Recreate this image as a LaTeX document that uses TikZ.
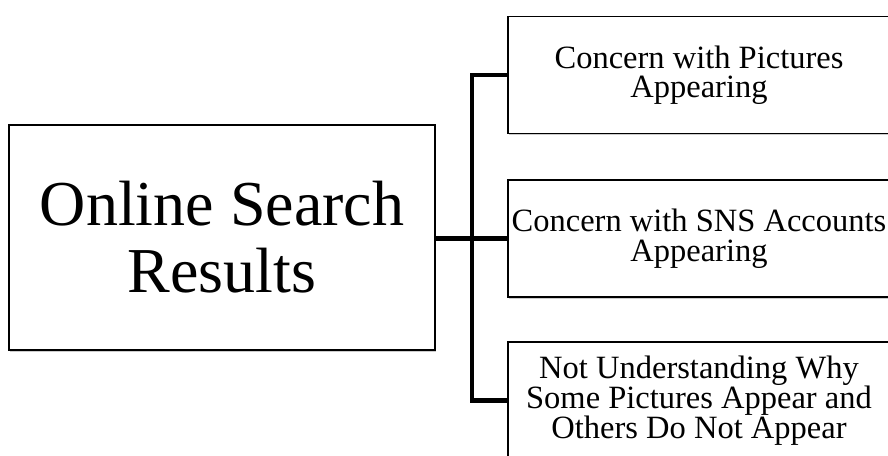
\documentclass[tikz,border=0pt]{standalone}
\usepackage{fontspec}
\setmainfont{Liberation Serif}
\usepackage{tikz}
\usetikzlibrary{shadows}
\tikzset{
        box_node/.style={draw=black, line width=1.3pt, fill=white, align=center,
                         inner sep=0pt,
                         drop shadow={shadow xshift=1.2pt, shadow yshift=-1.5pt,
                                      fill=black, opacity=0.2}},
        main_box/.style={box_node, minimum width=426pt, minimum height=225pt,
                         font=\fontsize{64}{67}\selectfont},
        sub_box/.style={box_node, minimum width=382pt, minimum height=117pt,
                        font=\fontsize{32.5}{29.5}\selectfont},
        conn_line/.style={line width=4.5pt, draw=black, line join=miter}
    }

\begin{document}
\begin{tikzpicture}[x=1pt, y=-1pt]
    \useasboundingbox (0, 0) rectangle (888, 455);
    \clip (0, 0) rectangle (888, 455);
    \node[main_box] (search) at (222, 237.5) {Online Search\\Results};
    \node[sub_box] (pictures) at (699, 75) {Concern with Pictures\\Appearing};
    \node[sub_box] (sns) at (699, 238.5) {Concern with SNS Accounts\\Appearing};
    \node[sub_box] (why) at (699, 400.5) {Not Understanding Why\\Some Pictures Appear and\\Others Do Not Appear};
    % bracket between the boxes
    \coordinate (spine) at (472, 238.5);
    \draw[conn_line] (search.east |- spine) -- (sns.west);
    \draw[conn_line] (pictures.west) -| (spine) |- (why.west);
\end{tikzpicture}
\end{document}
